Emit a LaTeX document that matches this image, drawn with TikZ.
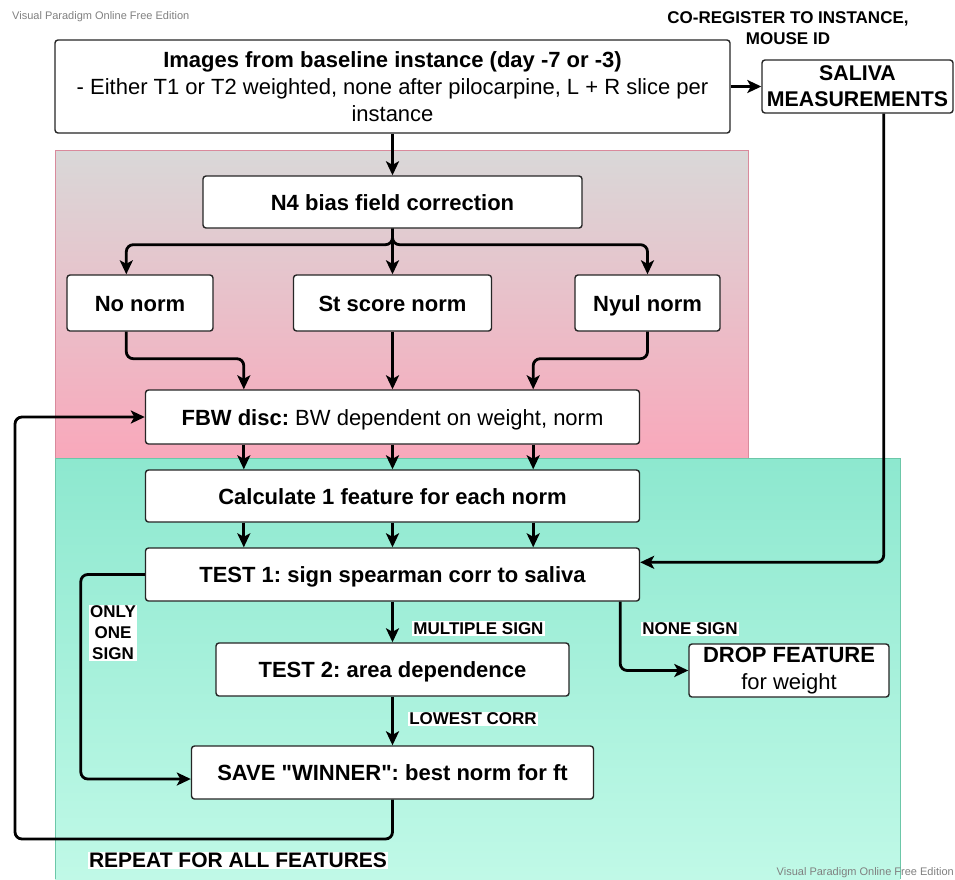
\documentclass[tikz,border=0pt]{standalone}
\usepackage{fontspec}
\setmainfont{Liberation Sans}[Ligatures=TeXOff]
\usetikzlibrary{arrows.meta,calc}
\definecolor{pinktop}{HTML}{D9D8D8}
\definecolor{pinkbot}{HTML}{F9A8BB}
\definecolor{pinkline}{HTML}{D98A9C}
\definecolor{greentop}{HTML}{8DE8CF}
\definecolor{greenbot}{HTML}{C0F9E7}
\definecolor{greenline}{HTML}{6CC7A8}
\frenchspacing
\begin{document}
\begin{tikzpicture}[x=1pt,y=-1pt,
  box/.style={draw=black!85,line width=1.4pt,fill=white,rounded corners=3pt,align=center,inner sep=0pt,font=\fontsize{22}{27}\selectfont},
  one/.style={box,font=\fontsize{22}{27}\selectfont\bfseries,text height=16pt,text depth=0pt},
  conn/.style={line width=2.8pt,rounded corners=7pt,-{Stealth[length=14pt,width=13pt,inset=3.5pt]}},
  lbl/.style={fill=white,inner sep=1pt,align=center,font=\fontsize{17}{21}\selectfont\bfseries},
  wm/.style={text=black!50,inner sep=0pt,font=\fontsize{11}{13}\selectfont}]
\useasboundingbox (0,0) rectangle (955,879);
% regions
\shade[top color=pinktop,bottom color=pinkbot] (55,150) rectangle (748,458);
\draw[pinkline,line width=0.8pt] (55,458) -- (55,150) -- (748,150) -- (748,458);
\shade[top color=greentop,bottom color=greenbot] (55,458) rectangle (900,879);
\draw[greenline,line width=0.8pt] (55,879) -- (55,458) -- (900,458) -- (900,879);
% watermarks
\node[wm,anchor=west] (wm1) at (12,17) {Visual Paradigm Online Free Edition};
\node[wm,anchor=east] (wm2) at (954,873) {Visual Paradigm Online Free Edition};
% boxes
\node[box,minimum width=675pt,minimum height=93pt] (img) at (392.5,86.5)
  {\textbf{Images from baseline instance (day -7 or -3)}\\- Either T1 or T2 weighted, none after pilocarpine, L + R slice per\\instance};
\node[box,font=\fontsize{21.3}{26}\selectfont\bfseries,minimum width=191pt,minimum height=53pt] (sal) at (857.5,86.5) {SALIVA\\MEASUREMENTS};
\node[lbl,fill=none] (coreg) at (788,28) {CO-REGISTER TO INSTANCE,\\MOUSE ID};
\node[one,minimum width=379pt,minimum height=52pt] (n4) at (392.5,202) {N4 bias field correction};
\node[one,minimum width=146pt,minimum height=56pt] (nonorm) at (140,303) {No norm};
\node[one,minimum width=198pt,minimum height=56pt] (st) at (392.5,303) {St score norm};
\node[one,minimum width=145pt,minimum height=56pt] (nyul) at (647.5,303) {Nyul norm};
\node[one,font=\fontsize{22}{27}\selectfont,minimum width=494pt,minimum height=54pt] (fbw) at (392.5,417) {\textbf{FBW disc:} BW dependent on weight, norm};
\node[one,minimum width=494pt,minimum height=52pt] (calc) at (392.5,496) {Calculate 1 feature for each norm};
\node[one,minimum width=494pt,minimum height=53pt] (test1) at (392.5,574.5) {TEST 1: sign spearman corr to saliva};
\node[one,minimum width=353pt,minimum height=53pt] (test2) at (392.5,669.5) {TEST 2: area dependence};
\node[one,minimum width=402pt,minimum height=53pt] (save) at (392.5,772.5) {SAVE "WINNER": best norm for ft};
\node[box,minimum width=200pt,minimum height=53pt] (drop) at (789,670.5) {\textbf{DROP FEATURE}\\for weight};
% connectors
\draw[conn] (img.south) -- (n4.north);
\draw[conn] (img.east) -- (sal.west);
\draw[conn] (n4.south) -- ++(0,16) -| ($(nonorm.north west)+(60,0)$);
\draw[conn] (n4.south) -- (st.north);
\draw[conn] (n4.south) -- ++(0,16) -| (nyul.north);
\draw[conn] ($(nonorm.south west)+(60,0)$) -- ++(0,27) -| ($(fbw.north west)+(99,0)$);
\draw[conn] (st.south) -- (fbw.north);
\draw[conn] (nyul.south) -- ++(0,27) -| ($(fbw.north east)+(-107,0)$);
\draw[conn] ($(fbw.south west)+(99,0)$) -- ($(calc.north west)+(99,0)$);
\draw[conn] (fbw.south) -- (calc.north);
\draw[conn] ($(fbw.south east)+(-107,0)$) -- ($(calc.north east)+(-107,0)$);
\draw[conn] ($(calc.south west)+(99,0)$) -- ($(test1.north west)+(99,0)$);
\draw[conn] (calc.south) -- (test1.north);
\draw[conn] ($(calc.south east)+(-107,0)$) -- ($(test1.north east)+(-107,0)$);
\draw[conn] ($(sal.south east)+(-70,0)$) |- ($(test1.north east)+(0,15)$);
\draw[conn] (test1.west) -- ++(-64,0) |- ($(save.west)+(0,6.5)$);
\draw[conn] (test1.south) -- (test2.north);
\draw[conn] (test2.south) -- (save.north);
\draw[conn] ($(test1.south east)+(-20,0)$) |- (drop.west);
\coordinate (loop) at (15,839);
\draw[conn] (save.south) |- (loop) |- (fbw.west);
% labels
\node[lbl] (l1) at (113,633) {ONLY\\ONE\\SIGN};
\node[lbl] (l2) at (478.5,628.5) {MULTIPLE SIGN};
\node[lbl] (l3) at (473,719) {LOWEST CORR};
\node[lbl] (l4) at (690,629) {NONE SIGN};
\node[lbl,font=\fontsize{21}{25}\selectfont\bfseries] (l5) at (238,860.5) {REPEAT FOR ALL FEATURES};
\end{tikzpicture}
\end{document}
